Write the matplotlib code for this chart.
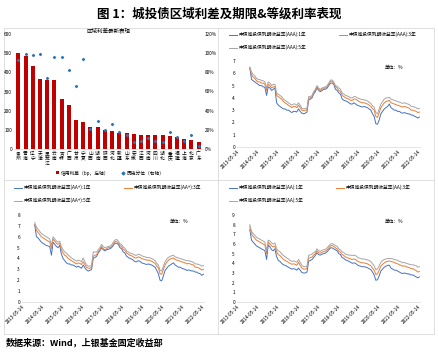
import numpy as np
import pandas as pd
import matplotlib
matplotlib.use("Agg")
import matplotlib.pyplot as plt
from matplotlib.ticker import PercentFormatter
import matplotlib.dates as mdates

plt.rcParams['font.family'] = ['Noto Sans CJK SC', 'DejaVu Sans']
plt.rcParams['axes.unicode_minus'] = False

# ---- bar chart data ----
regions = ['贵州', '青海', '辽宁', '天津', '黑龙江', '云南', '吉林', '广西', '甘肃', '宁夏',
           '山西', '湖南', '陕西', '河北', '新疆', '山东', '安徽', '江西', '河南', '四川',
           '湖北', '重庆', '福建', '上海', '北京', '广东']
spread = [502, 483, 433, 367, 362, 362, 259, 228, 152, 143, 114, 114, 97, 95, 84, 83,
          76, 74, 72, 72, 71, 69, 65, 50, 48, 36]
pctl = [93, 99.6, 98.6, 99.6, 74.5, 96, 95.5, 82.8, 66, 94, 21, 29, 20, 26.5, 18, 15,
        7, 8.6, 11, 8.3, 7, 18, 12.4, 8.6, 15, 2.8]

# ---- yield curves (monthly, 2014-01 .. 2022-06) ----
dates = pd.date_range('2014-01-01', '2022-06-01', freq='MS')

aaa_1y = [6.45, 5.5, 5.4, 5.3, 5.2, 5.1, 5.0, 5.0, 4.9, 4.85, 4.2, 4.9,
          4.8, 4.6, 4.7, 4.8, 3.6, 3.4, 3.3, 3.2, 3.1, 3.1, 3.0, 3.0,
          2.9, 2.8, 2.9, 2.9, 2.85, 3.1, 2.9, 2.75, 2.7, 2.75, 2.85, 3.8,
          3.9, 4.0, 4.3, 4.5, 4.8, 4.6, 4.5, 4.6, 4.7, 4.7, 4.8, 5.0,
          5.2, 5.2, 5.1, 4.7, 4.6, 4.4, 4.3, 3.9, 3.8, 3.75, 3.7, 3.6,
          3.5, 3.5, 3.6, 3.5, 3.4, 3.35, 3.3, 3.25, 3.3, 3.25, 3.2, 3.1,
          3.0, 2.7, 2.5, 1.9, 1.85, 2.2, 2.7, 2.9, 3.1, 3.2, 3.3, 3.5,
          3.2, 3.1, 3.0, 3.0, 2.9, 2.9, 2.8, 2.75, 2.8, 2.75, 2.7, 2.7,
          2.6, 2.6, 2.5, 2.45, 2.35, 2.45]
aaa_3y = [6.4, 5.9, 5.7, 5.6, 5.4, 5.3, 5.3, 5.2, 5.2, 5.1, 4.6, 5.1,
          5.0, 4.8, 4.9, 4.9, 4.2, 4.1, 4.0, 3.9, 3.7, 3.6, 3.5, 3.4,
          3.3, 3.2, 3.3, 3.3, 3.2, 3.4, 3.2, 3.0, 2.95, 3.0, 3.0, 3.95,
          4.0, 4.1, 4.4, 4.6, 4.9, 4.7, 4.6, 4.7, 4.8, 4.8, 4.9, 5.1,
          5.35, 5.35, 5.2, 4.9, 4.8, 4.6, 4.5, 4.2, 4.1, 4.0, 3.95, 3.9,
          3.8, 3.8, 3.9, 3.9, 3.8, 3.7, 3.65, 3.6, 3.6, 3.55, 3.5, 3.4,
          3.3, 3.1, 3.0, 2.5, 2.4, 2.8, 3.2, 3.4, 3.6, 3.7, 3.75, 3.8,
          3.6, 3.55, 3.5, 3.45, 3.4, 3.35, 3.3, 3.25, 3.3, 3.25, 3.2, 3.15,
          3.0, 3.0, 2.95, 2.9, 2.8, 2.85]
aaa_5y = [6.5, 6.1, 5.9, 5.8, 5.6, 5.5, 5.5, 5.4, 5.4, 5.3, 4.8, 5.3,
          5.2, 5.0, 5.1, 5.1, 4.4, 4.3, 4.2, 4.1, 3.9, 3.8, 3.7, 3.6,
          3.5, 3.4, 3.5, 3.5, 3.4, 3.6, 3.4, 3.15, 3.1, 3.15, 3.15, 4.1,
          4.1, 4.2, 4.5, 4.7, 5.0, 4.8, 4.7, 4.8, 4.85, 4.9, 5.0, 5.2,
          5.45, 5.45, 5.3, 5.0, 4.95, 4.8, 4.7, 4.4, 4.3, 4.2, 4.15, 4.1,
          4.0, 4.0, 4.1, 4.1, 4.0, 3.95, 3.9, 3.85, 3.85, 3.8, 3.75, 3.65,
          3.55, 3.35, 3.25, 2.8, 2.7, 3.1, 3.5, 3.7, 3.9, 4.0, 4.0, 4.05,
          3.9, 3.85, 3.8, 3.75, 3.7, 3.65, 3.6, 3.55, 3.6, 3.55, 3.5, 3.45,
          3.3, 3.3, 3.25, 3.2, 3.1, 3.15]

aap_1y = [7.1, 6.0, 5.9, 5.7, 5.5, 5.4, 5.3, 5.2, 5.15, 5.1, 4.3, 5.5,
          5.3, 5.1, 5.0, 5.2, 4.4, 4.0, 3.8, 3.6, 3.5, 3.5, 3.4, 3.4,
          3.3, 3.2, 3.3, 3.2, 3.1, 3.4, 3.15, 2.95, 2.85, 2.9, 3.0, 4.0,
          4.1, 4.2, 4.5, 4.7, 5.0, 4.8, 4.7, 4.8, 4.85, 4.9, 5.0, 5.2,
          5.4, 5.4, 5.3, 5.0, 4.9, 4.6, 4.5, 4.2, 4.1, 4.0, 3.95, 3.85,
          3.7, 3.7, 3.8, 3.75, 3.6, 3.55, 3.5, 3.45, 3.5, 3.45, 3.4, 3.3,
          3.2, 2.9, 2.6, 2.0, 1.95, 2.4, 2.9, 3.1, 3.3, 3.4, 3.5, 3.6,
          3.4, 3.3, 3.2, 3.2, 3.1, 3.05, 3.0, 2.9, 2.95, 2.9, 2.85, 2.85,
          2.75, 2.75, 2.65, 2.6, 2.45, 2.55]
aap_3y = [7.1, 6.6, 6.4, 6.2, 6.0, 5.9, 5.8, 5.7, 5.6, 5.5, 4.9, 5.8,
          5.6, 5.4, 5.3, 5.4, 4.8, 4.5, 4.3, 4.2, 4.0, 3.9, 3.8, 3.7,
          3.6, 3.5, 3.6, 3.55, 3.45, 3.7, 3.45, 3.2, 3.1, 3.1, 3.2, 4.2,
          4.3, 4.35, 4.6, 4.8, 5.1, 4.9, 4.8, 4.9, 5.0, 5.0, 5.1, 5.3,
          5.55, 5.55, 5.45, 5.2, 5.1, 4.85, 4.75, 4.5, 4.4, 4.3, 4.25, 4.15,
          4.05, 4.05, 4.15, 4.1, 4.0, 3.95, 3.9, 3.85, 3.85, 3.8, 3.75, 3.65,
          3.55, 3.3, 3.15, 2.6, 2.55, 3.0, 3.4, 3.65, 3.85, 3.95, 4.0, 4.05,
          3.9, 3.85, 3.8, 3.75, 3.7, 3.65, 3.6, 3.5, 3.55, 3.5, 3.45, 3.4,
          3.2, 3.2, 3.15, 3.05, 2.95, 3.0]
aap_5y = [7.3, 6.9, 6.7, 6.5, 6.3, 6.2, 6.1, 6.0, 5.9, 5.8, 5.2, 6.0,
          5.8, 5.6, 5.5, 5.6, 5.1, 4.8, 4.6, 4.5, 4.3, 4.2, 4.05, 3.95,
          3.85, 3.75, 3.85, 3.8, 3.7, 4.05, 3.7, 3.4, 3.3, 3.3, 3.35, 4.6,
          4.6, 4.6, 4.8, 5.0, 5.3, 5.1, 5.0, 5.05, 5.1, 5.15, 5.25, 5.5,
          5.7, 5.75, 5.6, 5.35, 5.3, 5.05, 4.95, 4.7, 4.6, 4.5, 4.45, 4.4,
          4.3, 4.3, 4.4, 4.35, 4.25, 4.2, 4.15, 4.1, 4.1, 4.05, 4.0, 3.9,
          3.8, 3.55, 3.4, 2.9, 2.85, 3.3, 3.7, 3.95, 4.1, 4.2, 4.25, 4.3,
          4.15, 4.1, 4.05, 4.0, 3.95, 3.9, 3.85, 3.8, 3.8, 3.75, 3.7, 3.65,
          3.5, 3.5, 3.45, 3.4, 3.3, 3.35]

aa_1y = [7.5, 6.4, 6.2, 6.0, 5.8, 5.7, 5.6, 5.5, 5.4, 5.3, 4.4, 5.9,
         5.7, 5.4, 5.3, 5.5, 4.7, 4.3, 4.2, 4.0, 3.85, 3.8, 3.7, 3.6,
         3.5, 3.4, 3.45, 3.4, 3.3, 3.5, 3.3, 3.05, 3.0, 3.0, 3.1, 4.2,
         4.3, 4.4, 4.6, 4.8, 5.1, 4.9, 4.85, 4.95, 5.0, 5.05, 5.2, 5.4,
         5.6, 5.6, 5.5, 5.4, 5.3, 5.0, 4.9, 4.6, 4.5, 4.35, 4.3, 4.2,
         4.1, 4.0, 4.05, 4.0, 3.85, 3.75, 3.7, 3.65, 3.65, 3.6, 3.55, 3.45,
         3.35, 3.1, 2.8, 2.25, 2.3, 2.7, 3.2, 3.4, 3.6, 3.7, 3.8, 3.8,
         3.5, 3.4, 3.3, 3.3, 3.2, 3.1, 3.0, 2.95, 3.0, 2.95, 2.9, 2.9,
         2.8, 2.8, 2.7, 2.6, 2.5, 2.6]
aa_3y = [7.8, 7.0, 6.8, 6.6, 6.4, 6.3, 6.2, 6.1, 6.0, 5.9, 5.0, 6.2,
         6.0, 5.8, 5.7, 5.8, 5.2, 4.9, 4.8, 4.6, 4.4, 4.3, 4.2, 4.1,
         4.0, 3.9, 3.95, 3.9, 3.8, 4.1, 3.8, 3.5, 3.4, 3.4, 3.5, 4.5,
         4.6, 4.65, 4.85, 5.0, 5.3, 5.1, 5.05, 5.15, 5.2, 5.25, 5.4, 5.6,
         5.8, 5.85, 5.75, 5.6, 5.5, 5.25, 5.15, 4.9, 4.8, 4.65, 4.6, 4.5,
         4.45, 4.4, 4.45, 4.4, 4.25, 4.15, 4.1, 4.05, 4.05, 4.0, 3.95, 3.85,
         3.75, 3.5, 3.3, 2.85, 2.9, 3.3, 3.7, 3.9, 4.05, 4.15, 4.2, 4.25,
         4.2, 4.15, 4.1, 4.0, 3.95, 3.85, 3.8, 3.7, 3.75, 3.65, 3.6, 3.55,
         3.45, 3.45, 3.35, 3.25, 3.1, 3.15]
aa_5y = [8.0, 7.3, 7.1, 6.9, 6.7, 6.6, 6.5, 6.4, 6.3, 6.2, 5.3, 6.4,
         6.3, 6.1, 6.0, 6.1, 5.5, 5.3, 5.2, 5.0, 4.8, 4.7, 4.55, 4.45,
         4.3, 4.2, 4.25, 4.2, 4.1, 4.4, 4.1, 3.8, 3.65, 3.65, 3.7, 4.8,
         4.9, 4.95, 5.1, 5.2, 5.5, 5.3, 5.25, 5.35, 5.4, 5.45, 5.6, 5.8,
         6.0, 6.05, 5.95, 5.85, 5.75, 5.5, 5.4, 5.2, 5.1, 4.95, 4.9, 4.85,
         4.85, 4.8, 4.85, 4.8, 4.65, 4.55, 4.5, 4.45, 4.45, 4.4, 4.35, 4.3,
         4.2, 3.95, 3.75, 3.35, 3.4, 3.75, 4.1, 4.3, 4.4, 4.45, 4.5, 4.5,
         4.5, 4.45, 4.4, 4.35, 4.3, 4.2, 4.15, 4.05, 4.1, 4.0, 3.95, 3.9,
         3.85, 3.85, 3.8, 3.75, 3.6, 3.65]

W, H = 438, 352
fig = plt.figure(figsize=(W / 100, H / 100), dpi=100)


def rect(l, t, r, b):
    return [l / W, 1 - b / H, (r - l) / W, (b - t) / H]


fs = 3.4
grey = '#d9d9d9'

# title and source
fig.text(0.5, 1 - 14 / H, '图 1：城投债区域利差及期限&等级利率表现', ha='center', va='center',
         fontsize=9, fontweight='bold')
fig.text(6 / W, 1 - 343 / H, '数据来源：Wind，上银基金固定收益部', ha='left', va='center',
         fontsize=6.5, fontweight='bold')

# panel borders
frame = fig.add_axes([0, 0, 1, 1], zorder=-1)
frame.set_xlim(0, W)
frame.set_ylim(H, 0)
frame.axis('off')
frame.plot([4, 434, 434, 4, 4], [28, 28, 334, 334, 28], color=grey, lw=0.6)
frame.plot([218, 218], [28, 334], color=grey, lw=0.6)
frame.plot([4, 434], [180, 180], color=grey, lw=0.6)

# ---- bar chart ----
ax = fig.add_axes(rect(14, 34, 203, 149))
x = np.arange(len(regions))
ax.bar(x, spread, width=0.55, color='#C00000', label='信用利差（bp，左轴）')
ax.set_ylim(0, 600)
ax.set_yticks(range(0, 601, 100))
ax.set_xlim(-0.6, len(regions) - 0.4)
ax.set_xticks(x)
ax.set_xticklabels(['\n'.join(r) for r in regions], fontsize=fs - 0.3, linespacing=0.95)
ax.tick_params(axis='both', length=0, labelsize=fs, pad=1.5)
for s in ['top', 'right', 'left']:
    ax.spines[s].set_visible(False)
ax.spines['bottom'].set_color(grey)
ax.spines['bottom'].set_linewidth(0.5)
ax2 = ax.twinx()
ax2.scatter(x, pctl, marker='D', s=1.0, color='#2E75B6', label='历史分位（右轴）', zorder=3)
ax2.set_ylim(0, 120)
ax2.set_yticks(range(0, 121, 20))
ax2.yaxis.set_major_formatter(PercentFormatter(decimals=0))
ax2.tick_params(axis='y', length=0, labelsize=fs, pad=1.5)
for s in ax2.spines.values():
    s.set_visible(False)
ax.set_title('区域利差最新表现', fontsize=fs + 0.6, pad=1)
h1, l1 = ax.get_legend_handles_labels()
h2, l2 = ax2.get_legend_handles_labels()
fig.legend(h1 + h2, l1 + l2, loc='center', bbox_to_anchor=(110 / W, 1 - 173 / H), ncol=2,
           fontsize=fs, frameon=False, handlelength=0.7, handleheight=0.6,
           handletextpad=0.4, columnspacing=2.5, markerscale=1.4)

# ---- line charts ----
panels = [
    (rect(237, 61, 420, 147), 'AAA', 7, (aaa_1y, aaa_3y, aaa_5y), 32),
    (rect(22, 215, 204, 302), 'AA+', 8, (aap_1y, aap_3y, aap_5y), 185),
    (rect(237, 215, 420, 302), 'AA', 9, (aa_1y, aa_3y, aa_5y), 185),
]
colors = ['#4472C4', '#ED7D31', '#A5A5A5']
tick_dates = pd.date_range('2013-05-14', periods=10, freq=pd.DateOffset(years=1))

for r, grade, ymax, series, leg_y in panels:
    a = fig.add_axes(r)
    lines = []
    for vals, c, term in zip(series, colors, ['1年', '3年', '5年']):
        ln, = a.plot(dates, vals, color=c, lw=0.7,
                     label=f'中债城投债到期收益率({grade}):{term}')
        lines.append(ln)
    a.set_ylim(0, ymax)
    a.set_yticks(range(0, ymax + 1))
    a.set_xlim(pd.Timestamp('2013-05-14'), pd.Timestamp('2022-06-10'))
    a.set_xticks(tick_dates)
    a.xaxis.set_major_formatter(mdates.DateFormatter('%Y-%m-%d'))
    plt.setp(a.get_xticklabels(), rotation=45, ha='right', rotation_mode='anchor')
    a.tick_params(axis='both', length=0, labelsize=fs, pad=1.5)
    for s in ['top', 'right', 'left']:
        a.spines[s].set_visible(False)
    a.spines['bottom'].set_color(grey)
    a.spines['bottom'].set_linewidth(0.5)
    a.text(0.86, 0.93, '单位：%', transform=a.transAxes, fontsize=fs, ha='center', va='center')
    left = r[0]
    fig.legend([lines[0], lines[2], lines[1]],
               [lines[0].get_label(), lines[2].get_label(), lines[1].get_label()],
               loc='upper left', bbox_to_anchor=(left - 8 / W, 1 - leg_y / H), ncol=2,
               fontsize=fs, frameon=False, handlelength=1.6, handletextpad=0.4,
               columnspacing=7, labelspacing=1.6, borderaxespad=0, borderpad=0)

fig.savefig('out.png', dpi=100)
